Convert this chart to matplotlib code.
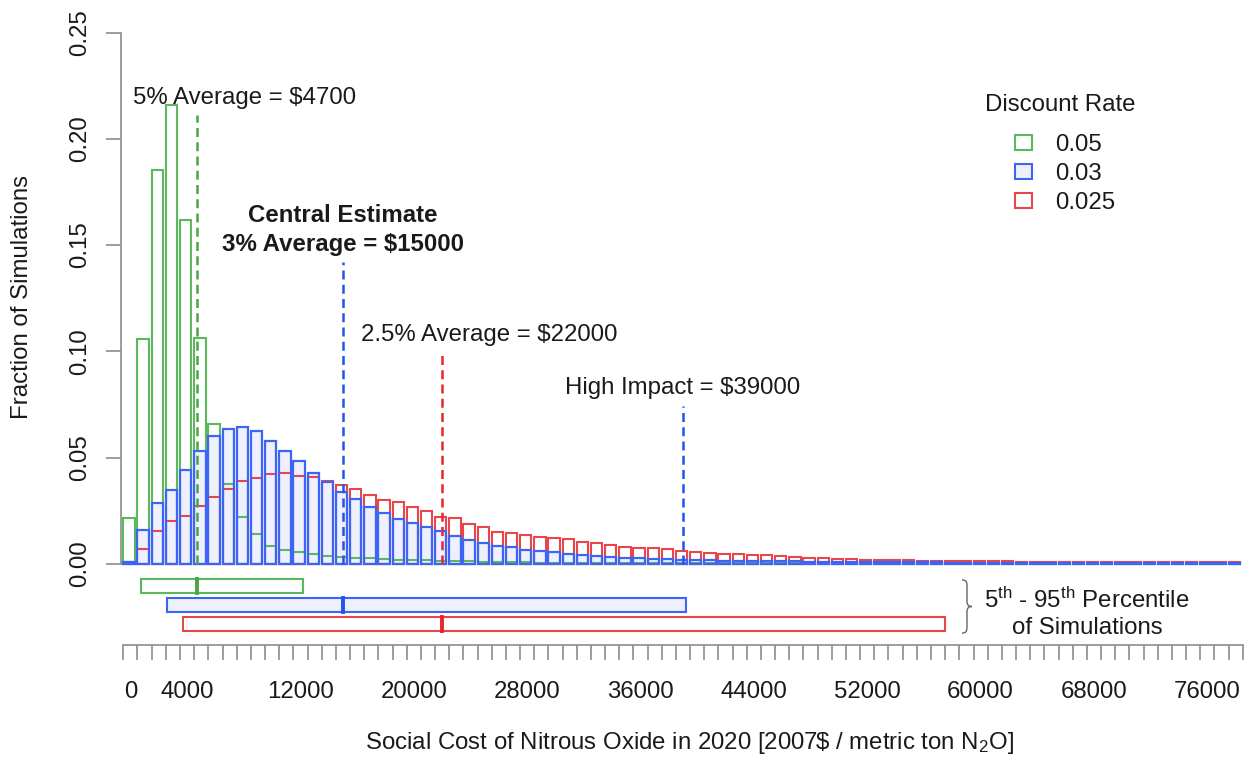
import numpy as np
import matplotlib.pyplot as plt
from matplotlib.patches import Patch, Rectangle, PathPatch
from matplotlib.path import Path

plt.rcParams['font.family'] = ['Liberation Sans', 'DejaVu Sans']
plt.rcParams['mathtext.fontset'] = 'custom'
plt.rcParams['mathtext.rm'] = 'Liberation Sans'
plt.rcParams['mathtext.it'] = 'Liberation Sans:italic'
plt.rcParams['text.color'] = '#1a1a1a'

# histogram bins: 1000 wide, centred on 0, 1000, ... 78000
bin_centers = np.arange(0, 79000, 1000)

rate_05 = [0.0216, 0.1057, 0.1854, 0.2157, 0.1618, 0.1065, 0.0659, 0.0376, 0.0223, 0.0140,
           0.0085, 0.0065, 0.0055, 0.0049, 0.0039, 0.0033, 0.0030, 0.0027, 0.0024, 0.0021,
           0.0019, 0.0017, 0.0015, 0.0013, 0.0012, 0.0011, 0.0010, 0.0009, 0.0008, 0.0007,
           0.0007, 0.0006, 0.0006, 0.0005, 0.0005, 0.0005, 0.0004, 0.0004, 0.0004, 0.0004,
           0.0003, 0.0003, 0.0003, 0.0003, 0.0003, 0.0003, 0.0003, 0.0003, 0.0003, 0.0003,
           0.0003, 0.0003, 0.0002, 0.0002, 0.0002, 0.0002, 0.0002, 0.0002, 0.0002, 0.0002,
           0.0002, 0.0002, 0.0002, 0.0002, 0.0002, 0.0002, 0.0002, 0.0002, 0.0002, 0.0002,
           0.0002, 0.0002, 0.0002, 0.0002, 0.0002, 0.0002, 0.0002, 0.0002, 0.0002]

rate_03 = [0.0008, 0.0160, 0.0286, 0.0349, 0.0444, 0.0530, 0.0600, 0.0637, 0.0645, 0.0624,
           0.0577, 0.0533, 0.0486, 0.0428, 0.0384, 0.0341, 0.0307, 0.0270, 0.0239, 0.0211,
           0.0192, 0.0173, 0.0153, 0.0132, 0.0113, 0.0098, 0.0087, 0.0079, 0.0066, 0.0061,
           0.0055, 0.0047, 0.0042, 0.0038, 0.0031, 0.0030, 0.0027, 0.0024, 0.0022, 0.0019,
           0.0019, 0.0017, 0.0016, 0.0015, 0.0014, 0.0013, 0.0012, 0.0012, 0.0011, 0.0010,
           0.0010, 0.0009, 0.0009, 0.0009, 0.0008, 0.0008, 0.0008, 0.0008, 0.0007, 0.0007,
           0.0007, 0.0007, 0.0007, 0.0007, 0.0007, 0.0007, 0.0007, 0.0006, 0.0006, 0.0006,
           0.0006, 0.0006, 0.0006, 0.0006, 0.0006, 0.0006, 0.0006, 0.0006, 0.0006]

rate_025 = [0.0008, 0.0069, 0.0157, 0.0203, 0.0228, 0.0275, 0.0315, 0.0352, 0.0389, 0.0405,
            0.0423, 0.0428, 0.0415, 0.0410, 0.0390, 0.0373, 0.0352, 0.0326, 0.0299, 0.0291,
            0.0270, 0.0250, 0.0219, 0.0216, 0.0187, 0.0176, 0.0150, 0.0148, 0.0137, 0.0129,
            0.0121, 0.0118, 0.0105, 0.0098, 0.0090, 0.0082, 0.0077, 0.0074, 0.0069, 0.0063,
            0.0058, 0.0054, 0.0049, 0.0046, 0.0044, 0.0040, 0.0037, 0.0033, 0.0030, 0.0028,
            0.0025, 0.0023, 0.0021, 0.0019, 0.0018, 0.0017, 0.0016, 0.0016, 0.0015, 0.0015,
            0.0014, 0.0013, 0.0013, 0.0010, 0.0009, 0.0009, 0.0009, 0.0009, 0.0009, 0.0009,
            0.0009, 0.0008, 0.0008, 0.0008, 0.0008, 0.0008, 0.0008, 0.0008, 0.0008]

rate_labels = ['0.05', '0.03', '0.025']
averages = [4700, 15000, 22000]
high_impact = 39000
pct_5th = [750, 2600, 3700]
pct_95th = [12200, 39200, 57500]

x_tick_labels = [0, 4000, 12000, 20000, 28000, 36000, 44000, 52000, 60000, 68000, 76000]
y_ticks = [0.00, 0.05, 0.10, 0.15, 0.20, 0.25]

GREEN = '#5cb85c'
BLUE = '#3c64f5'
BLUE_FILL = '#eef0fd'
RED = '#e8464b'
GREEN_D = '#45a845'
BLUE_D = '#2452f0'
RED_D = '#e8262c'
AXC = '#8c8c8c'
FS = 17.3


def px_x(p):
    return (p - 130.4) / 14.17 * 1000


def px_y(p):
    return (564 - p) / 2126


fig = plt.figure(figsize=(12.51, 7.58), dpi=100)
ax = fig.add_axes([0, 0, 1, 1])
ax.set_xlim(px_x(0), px_x(1251))
ax.set_ylim(px_y(758), px_y(0))

edges = bin_centers - 500
bw = 800
ax.bar(edges, rate_03, width=bw, align='edge', color=BLUE_FILL, edgecolor='none', zorder=1)
ax.bar(edges, rate_05, width=bw, align='edge', fill=False, edgecolor=GREEN, lw=1.5, zorder=2)
ax.bar(edges, rate_025, width=bw, align='edge', fill=False, edgecolor=RED, lw=1.5, zorder=2)
ax.bar(edges, rate_03, width=bw, align='edge', fill=False, edgecolor=BLUE, lw=1.6, zorder=3)

# dashed average lines
dash = (0, (3.6, 2.1))
ax.plot([averages[0]] * 2, [0, 0.211], color=GREEN_D, lw=1.8, ls=dash, zorder=4)
ax.plot([averages[1]] * 2, [0, 0.142], color=BLUE_D, lw=1.8, ls=dash, zorder=4)
ax.plot([averages[2]] * 2, [0, 0.100], color=RED_D, lw=1.8, ls=dash, zorder=4)
ax.plot([high_impact] * 2, [0, 0.0743], color=BLUE_D, lw=1.8, ls=dash, zorder=4)

ax.text(px_x(133), px_y(104), '5% Average = $4700', ha='left', va='baseline', fontsize=FS)
ax.text(averages[1], px_y(222), 'Central Estimate', ha='center', va='baseline',
        fontsize=FS, fontweight='bold')
ax.text(averages[1], px_y(251), '3% Average = $15000', ha='center', va='baseline',
        fontsize=FS, fontweight='bold')
ax.text(px_x(489), px_y(341), '2.5% Average = $22000', ha='center', va='baseline', fontsize=FS)
ax.text(high_impact, px_y(394), 'High Impact = $39000', ha='center', va='baseline', fontsize=FS)

# percentile boxes under the histogram
box_rows = [(579.3, 592.7), (597.7, 611.7), (616.7, 630.7)]
edge_cols = [GREEN, BLUE, RED]
face_cols = ['white', BLUE_FILL, 'white']
med_cols = [GREEN_D, BLUE_D, RED_D]
for i in range(3):
    top, bot = px_y(box_rows[i][0]), px_y(box_rows[i][1])
    ax.add_patch(Rectangle((pct_5th[i], bot), pct_95th[i] - pct_5th[i], top - bot,
                           facecolor=face_cols[i], edgecolor=edge_cols[i], lw=1.5, zorder=3))
    ax.plot([averages[i]] * 2, [bot, top], color=med_cols[i], lw=2.8, zorder=4)

# curly brace
bx0, bw_px, by0, bh_px = 962, 10, 580, 53
pts = [(0, 0), (0.5, 0), (0.5, 0.05), (0.5, 0.15), (0.5, 0.4), (0.5, 0.48), (0.7, 0.5), (1, 0.5),
       (0.7, 0.5), (0.5, 0.52), (0.5, 0.6), (0.5, 0.85), (0.5, 0.95), (0.5, 1.0), (0, 1.0)]
codes = [Path.MOVETO, Path.CURVE4, Path.CURVE4, Path.CURVE4, Path.LINETO,
         Path.CURVE4, Path.CURVE4, Path.CURVE4, Path.CURVE4, Path.CURVE4, Path.CURVE4,
         Path.LINETO, Path.CURVE4, Path.CURVE4, Path.CURVE4]
verts = [(px_x(bx0 + u * bw_px), px_y(by0 + v * bh_px)) for u, v in pts]
ax.add_patch(PathPatch(Path(verts, codes), fill=False, edgecolor='#666666', lw=1.0))
ax.text(px_x(1087), px_y(608), r'5$^{\mathrm{th}}$ - 95$^{\mathrm{th}}$ Percentile',
        ha='center', va='baseline', fontsize=FS)
ax.text(px_x(1087), px_y(634), 'of Simulations', ha='center', va='baseline', fontsize=FS)

# axes
for s in ['top', 'right']:
    ax.spines[s].set_visible(False)
ax.spines['left'].set_position(('data', px_x(121)))
ax.spines['left'].set_bounds(0, 0.25)
ax.spines['bottom'].set_position(('data', px_y(644.5)))
ax.spines['bottom'].set_bounds(-500, 78500)
for s in ['left', 'bottom']:
    ax.spines[s].set_color(AXC)
    ax.spines[s].set_linewidth(1.2)

ax.set_yticks(y_ticks)
ax.set_yticklabels(['%.2f' % v for v in y_ticks])
ax.tick_params(axis='y', length=10.8, width=1.2, color=AXC, pad=11, labelsize=FS,
               labelcolor='#1a1a1a')
plt.setp(ax.get_yticklabels(), rotation=90, va='center')

ax.set_xticks(x_tick_labels)
ax.set_xticklabels([str(v) for v in x_tick_labels])
ax.set_xticks(np.arange(-500, 79000, 1000), minor=True)
ax.tick_params(axis='x', which='major', length=0, pad=26, labelsize=FS, labelcolor='#1a1a1a')
ax.tick_params(axis='x', which='minor', length=10.8, width=1.2, color=AXC)

fig.text(22 / 1251, 1 - 297 / 758, 'Fraction of Simulations', rotation=90,
         ha='center', va='center', fontsize=FS)
fig.text(689 / 1251, 1 - 743 / 758, r'Social Cost of Nitrous Oxide in 2020 [2007\$ / metric ton N$_\mathrm{2}$O]',
         ha='center', va='center', fontsize=FS)

# legend: title as its own text, entries through the legend
ax.text(px_x(1060), px_y(105), 'Discount Rate', ha='center', va='center', fontsize=FS)
handles = [Patch(facecolor='white', edgecolor=GREEN, lw=1.5),
           Patch(facecolor=BLUE_FILL, edgecolor=BLUE, lw=1.5),
           Patch(facecolor='white', edgecolor=RED, lw=1.5)]
ax.legend(handles, rate_labels, loc='upper left',
          bbox_to_anchor=(1015 / 1251, 1 - 134 / 758), bbox_transform=fig.transFigure,
          frameon=False, fontsize=FS, handlelength=0.71,
          handleheight=0.6, handletextpad=0.96, labelspacing=0.29, borderpad=0,
          borderaxespad=0)

fig.savefig('out.png', dpi=100)
